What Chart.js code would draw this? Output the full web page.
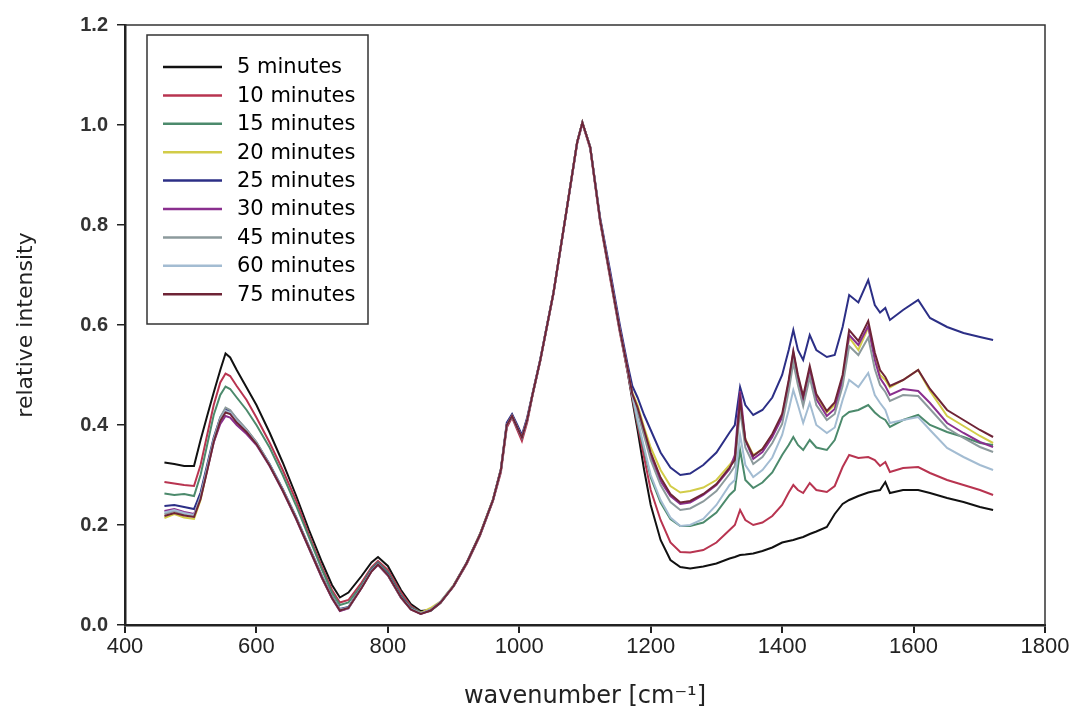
<!DOCTYPE html>
<html lang="en">
<head>
<meta charset="UTF-8">
<title>Spectra over time</title>
<script src="https://cdn.jsdelivr.net/npm/chart.js"></script>
<style>
    body {
        margin: 0;
        background: #ffffff;
    }
    #wrap {
        width: 1078px;
        height: 722px;
    }
</style>
</head>
<body>
<div id="wrap"><canvas id="spectra" width="1078" height="722"></canvas></div>
<script>
// wavenumbers (cm-1) shared by all spectra
const wavenumbers = [
    460, 475, 490, 505, 515, 525, 535, 545, 553, 560,
    570, 585, 600, 620, 640, 660, 680, 700, 715, 727,
    740, 760, 775, 785, 800, 820, 835, 850, 865, 880,
    900, 920, 940, 960, 972, 981, 989, 997, 1004, 1012,
    1020, 1032, 1052, 1072, 1088, 1096, 1108, 1123, 1138, 1153,
    1165, 1172, 1180, 1190, 1200, 1215, 1230, 1245, 1260, 1280,
    1300, 1320, 1328, 1336, 1344, 1356, 1370, 1385, 1400, 1410,
    1417, 1424, 1432, 1442, 1452, 1468, 1480, 1492, 1502, 1516,
    1531, 1541, 1549, 1557, 1564, 1584, 1607, 1625, 1651, 1676,
    1701, 1721
];

const labels = ['5 minutes', '10 minutes', '15 minutes', '20 minutes', '25 minutes',
                '30 minutes', '45 minutes', '60 minutes', '75 minutes'];

const s5 = [
    0.325, 0.322, 0.318, 0.318, 0.37, 0.418, 0.465, 0.51, 0.543, 0.535,
    0.51, 0.475, 0.44, 0.385, 0.325, 0.26, 0.19, 0.125, 0.08, 0.055,
    0.065, 0.098, 0.125, 0.136, 0.118, 0.07, 0.042, 0.028, 0.03, 0.045,
    0.078, 0.124, 0.18, 0.25, 0.31, 0.40, 0.418, 0.395, 0.375, 0.41,
    0.46, 0.53, 0.664, 0.83, 0.965, 1.005, 0.955, 0.81, 0.70, 0.59,
    0.505, 0.45, 0.39, 0.31, 0.24, 0.17, 0.13, 0.116, 0.113, 0.117,
    0.123, 0.133, 0.136, 0.14, 0.141, 0.143, 0.148, 0.155, 0.165, 0.168,
    0.17, 0.173, 0.176, 0.182, 0.187, 0.196, 0.222, 0.242, 0.25, 0.258,
    0.265, 0.268, 0.27, 0.286, 0.264, 0.27, 0.27, 0.264, 0.254, 0.246,
    0.236, 0.23
];
const s10 = [
    0.286, 0.283, 0.28, 0.278, 0.32, 0.38, 0.44, 0.485, 0.503, 0.498,
    0.478, 0.45, 0.415, 0.365, 0.31, 0.25, 0.18, 0.115, 0.07, 0.045,
    0.05, 0.085, 0.115, 0.128, 0.11, 0.065, 0.038, 0.025, 0.029, 0.044,
    0.077, 0.122, 0.178, 0.248, 0.305, 0.395, 0.415, 0.39, 0.368, 0.405,
    0.458, 0.528, 0.662, 0.828, 0.962, 1.003, 0.952, 0.806, 0.695, 0.585,
    0.505, 0.455, 0.40, 0.335, 0.27, 0.21, 0.165, 0.146, 0.145, 0.15,
    0.165, 0.19, 0.20, 0.23, 0.21, 0.2, 0.205, 0.218, 0.24, 0.265,
    0.28, 0.27, 0.264, 0.284, 0.27, 0.266, 0.278, 0.316, 0.34, 0.334,
    0.336, 0.33, 0.318, 0.326, 0.306, 0.314, 0.316, 0.304, 0.29, 0.28,
    0.27, 0.26
];
const s15 = [
    0.263, 0.26, 0.262, 0.258, 0.30, 0.36, 0.42, 0.46, 0.477, 0.472,
    0.455, 0.43, 0.40, 0.355, 0.30, 0.24, 0.175, 0.11, 0.065, 0.04,
    0.045, 0.08, 0.112, 0.125, 0.106, 0.06, 0.035, 0.025, 0.028, 0.044,
    0.078, 0.124, 0.18, 0.25, 0.31, 0.40, 0.418, 0.395, 0.375, 0.41,
    0.46, 0.53, 0.664, 0.83, 0.965, 1.005, 0.955, 0.81, 0.70, 0.59,
    0.51, 0.46, 0.405, 0.35, 0.295, 0.245, 0.212, 0.198, 0.198, 0.205,
    0.225, 0.26, 0.27, 0.35, 0.29, 0.274, 0.285, 0.305, 0.34, 0.36,
    0.376, 0.36, 0.35, 0.37, 0.355, 0.35, 0.37, 0.416, 0.426, 0.43,
    0.44, 0.425, 0.416, 0.41, 0.396, 0.41, 0.42, 0.40, 0.386, 0.376,
    0.364, 0.36
];
const s20 = [
    0.214, 0.222, 0.215, 0.212, 0.25, 0.31, 0.37, 0.41, 0.43, 0.427,
    0.41, 0.39, 0.365, 0.32, 0.27, 0.215, 0.155, 0.095, 0.055, 0.03,
    0.035, 0.075, 0.108, 0.122, 0.10, 0.055, 0.032, 0.024, 0.034, 0.047,
    0.08, 0.125, 0.182, 0.252, 0.312, 0.402, 0.42, 0.397, 0.377, 0.412,
    0.461, 0.531, 0.665, 0.831, 0.966, 1.006, 0.956, 0.812, 0.702, 0.592,
    0.512, 0.465, 0.44, 0.395, 0.355, 0.31, 0.278, 0.265, 0.268, 0.275,
    0.29, 0.32, 0.335, 0.44, 0.372, 0.34, 0.352, 0.38, 0.418, 0.48,
    0.53, 0.49, 0.452, 0.505, 0.458, 0.425, 0.44, 0.492, 0.575, 0.55,
    0.595, 0.535, 0.5, 0.49, 0.475, 0.49, 0.51, 0.468, 0.418, 0.398,
    0.378, 0.364
];
const s25 = [
    0.238, 0.24, 0.236, 0.232, 0.265, 0.32, 0.375, 0.415, 0.432, 0.428,
    0.412, 0.39, 0.365, 0.322, 0.272, 0.217, 0.157, 0.097, 0.057, 0.032,
    0.036, 0.076, 0.11, 0.123, 0.102, 0.057, 0.033, 0.023, 0.03, 0.046,
    0.079, 0.125, 0.181, 0.251, 0.312, 0.405, 0.422, 0.4, 0.38, 0.415,
    0.462, 0.532, 0.665, 0.83, 0.965, 1.005, 0.956, 0.815, 0.71, 0.6,
    0.52, 0.478, 0.455, 0.42, 0.39, 0.345, 0.315, 0.30, 0.303, 0.32,
    0.345, 0.385, 0.40, 0.476, 0.44, 0.42, 0.43, 0.455, 0.50, 0.55,
    0.59, 0.55, 0.53, 0.58, 0.55, 0.536, 0.54, 0.596, 0.66, 0.645,
    0.69, 0.64, 0.625, 0.634, 0.61, 0.63, 0.65, 0.614, 0.596, 0.584,
    0.576, 0.57
];
const s30 = [
    0.228, 0.232, 0.226, 0.222, 0.255, 0.31, 0.365, 0.402, 0.418, 0.415,
    0.4, 0.382, 0.36, 0.318, 0.268, 0.213, 0.153, 0.093, 0.053, 0.028,
    0.033, 0.074, 0.107, 0.12, 0.099, 0.054, 0.031, 0.022, 0.029, 0.045,
    0.078, 0.124, 0.18, 0.25, 0.31, 0.40, 0.418, 0.395, 0.375, 0.41,
    0.46, 0.53, 0.664, 0.83, 0.965, 1.005, 0.955, 0.81, 0.702, 0.592,
    0.512, 0.462, 0.43, 0.385, 0.338, 0.288, 0.258, 0.242, 0.245, 0.26,
    0.28, 0.312, 0.34, 0.468, 0.37, 0.332, 0.346, 0.376, 0.415, 0.485,
    0.545, 0.495, 0.45, 0.512, 0.452, 0.418, 0.432, 0.49, 0.58, 0.56,
    0.598, 0.53, 0.494, 0.478, 0.46, 0.472, 0.468, 0.444, 0.404, 0.384,
    0.366, 0.356
];
const s45 = [
    0.222, 0.228, 0.221, 0.218, 0.258, 0.315, 0.372, 0.415, 0.435, 0.43,
    0.413, 0.391, 0.366, 0.321, 0.271, 0.216, 0.156, 0.096, 0.056, 0.031,
    0.035, 0.075, 0.108, 0.122, 0.1, 0.055, 0.032, 0.023, 0.03, 0.046,
    0.078, 0.124, 0.18, 0.25, 0.31, 0.40, 0.418, 0.395, 0.375, 0.41,
    0.46, 0.53, 0.664, 0.83, 0.965, 1.005, 0.955, 0.81, 0.70, 0.59,
    0.51, 0.46, 0.425, 0.378, 0.33, 0.28, 0.246, 0.23, 0.233, 0.247,
    0.268, 0.302, 0.318, 0.43, 0.355, 0.322, 0.336, 0.364, 0.402, 0.468,
    0.525, 0.48, 0.438, 0.495, 0.44, 0.41, 0.422, 0.478, 0.558, 0.54,
    0.575, 0.512, 0.48, 0.466, 0.448, 0.46, 0.458, 0.432, 0.394, 0.374,
    0.356, 0.346
];
const s60 = [
    0.225, 0.23, 0.224, 0.22, 0.255, 0.312, 0.368, 0.41, 0.428, 0.425,
    0.408, 0.388, 0.363, 0.32, 0.27, 0.215, 0.155, 0.095, 0.055, 0.03,
    0.034, 0.075, 0.108, 0.121, 0.1, 0.055, 0.032, 0.023, 0.03, 0.046,
    0.078, 0.124, 0.18, 0.25, 0.31, 0.40, 0.418, 0.395, 0.375, 0.41,
    0.46, 0.53, 0.664, 0.83, 0.965, 1.005, 0.955, 0.81, 0.70, 0.59,
    0.51, 0.46, 0.41, 0.355, 0.30, 0.25, 0.215, 0.198, 0.2, 0.212,
    0.24, 0.28, 0.29, 0.38, 0.32, 0.296, 0.31, 0.335, 0.38, 0.43,
    0.47, 0.44, 0.404, 0.444, 0.40, 0.384, 0.395, 0.45, 0.49, 0.476,
    0.504, 0.46, 0.444, 0.43, 0.404, 0.41, 0.416, 0.39, 0.354, 0.336,
    0.32, 0.31
];
const s75 = [
    0.218, 0.224, 0.219, 0.216, 0.252, 0.308, 0.366, 0.408, 0.425, 0.422,
    0.405, 0.386, 0.362, 0.319, 0.269, 0.214, 0.154, 0.094, 0.054, 0.029,
    0.034, 0.074, 0.107, 0.121, 0.1, 0.055, 0.031, 0.022, 0.029, 0.045,
    0.078, 0.124, 0.18, 0.25, 0.31, 0.40, 0.418, 0.395, 0.375, 0.41,
    0.46, 0.53, 0.664, 0.83, 0.965, 1.005, 0.955, 0.81, 0.70, 0.59,
    0.512, 0.462, 0.435, 0.39, 0.345, 0.295, 0.262, 0.245, 0.248, 0.262,
    0.282, 0.315, 0.33, 0.45, 0.37, 0.338, 0.352, 0.382, 0.422, 0.49,
    0.548, 0.50, 0.458, 0.518, 0.462, 0.428, 0.445, 0.50, 0.59, 0.568,
    0.608, 0.545, 0.51, 0.496, 0.478, 0.49, 0.51, 0.472, 0.43, 0.41,
    0.39, 0.376
];

const series = [s5, s10, s15, s20, s25, s30, s45, s60, s75];
const colors = ['#111111', '#b83450', '#4c8a6c', '#d2cc48', '#2c2f86',
                '#8a2f8e', '#8c9a9c', '#a3bcd2', '#6e2436'];

const xTicks = [400, 600, 800, 1000, 1200, 1400, 1600, 1800];
const yTicks = [0, 0.2, 0.4, 0.6, 0.8, 1.0, 1.2];

const WIDE = '"DejaVu Sans", Arial, sans-serif';
const PLAIN = '"Liberation Sans", Arial, sans-serif';
const NARROW = '"Liberation Sans Narrow", "Arial Narrow", "Liberation Sans", sans-serif';

// legend box drawn inside the plot, top left
const legendBox = {
    id: 'legendBox',
    afterDatasetsDraw(chart) {
        const ctx = chart.ctx;
        const a = chart.chartArea;
        const bx = a.left + 22, by = a.top + 10, bw = 221, bh = 289;
        ctx.save();
        ctx.fillStyle = '#ffffff';
        ctx.fillRect(bx, by, bw, bh);
        ctx.strokeStyle = '#333333';
        ctx.lineWidth = 1.5;
        ctx.strokeRect(bx, by, bw, bh);
        ctx.font = '21px ' + WIDE;
        ctx.textBaseline = 'middle';
        chart.data.datasets.forEach((ds, i) => {
            const y = by + 32 + i * 28.4;
            ctx.strokeStyle = ds.borderColor;
            ctx.lineWidth = 2.5;
            ctx.beginPath();
            ctx.moveTo(bx + 16, y);
            ctx.lineTo(bx + 75, y);
            ctx.stroke();
            ctx.fillStyle = '#000000';
            ctx.fillText(ds.label, bx + 90, y + 1);
        });
        ctx.restore();
    }
};

// right and top frame lines
const frame = {
    id: 'frame',
    afterDraw(chart) {
        const ctx = chart.ctx;
        const a = chart.chartArea;
        ctx.save();
        ctx.strokeStyle = '#333333';
        ctx.lineWidth = 1.5;
        ctx.beginPath();
        ctx.moveTo(a.left, a.top);
        ctx.lineTo(a.right, a.top);
        ctx.lineTo(a.right, a.bottom);
        ctx.stroke();
        ctx.restore();
    }
};

const datasets = series.map((vals, i) => ({
    label: labels[i],
    data: wavenumbers.map((w, j) => ({ x: w, y: vals[j] })),
    borderColor: colors[i],
    backgroundColor: colors[i],
    borderWidth: 2,
    pointRadius: 0,
    tension: 0,
    order: series.length - i
}));

new Chart(document.getElementById('spectra'), {
    type: 'line',
    data: { datasets: datasets },
    options: {
        responsive: false,
        animation: false,
        layout: { padding: { left: 10, right: 33, top: 25, bottom: 8 } },
        plugins: {
            legend: { display: false },
            tooltip: { enabled: false }
        },
        scales: {
            x: {
                type: 'linear',
                min: 400,
                max: 1800,
                afterBuildTicks: s => { s.ticks = xTicks.map(v => ({ value: v })); },
                afterFit: s => { s.height = 89; },
                ticks: {
                    color: '#222222',
                    font: { family: NARROW, size: 22 },
                    padding: 1,
                    maxRotation: 0,
                    callback: v => String(v)
                },
                grid: { display: true, drawOnChartArea: false, drawTicks: true, tickLength: 8, color: '#222222', lineWidth: 2 },
                border: { display: true, color: '#222222', width: 2.5 },
                title: {
                    display: true,
                    text: 'wavenumber [cm\u207B\u00B9]',
                    color: '#222222',
                    font: { family: WIDE, size: 24 },
                    padding: { top: 10, bottom: 3 }
                }
            },
            y: {
                min: 0,
                max: 1.2,
                afterBuildTicks: s => { s.ticks = yTicks.map(v => ({ value: v })); },
                afterFit: s => { s.width = 115; },
                ticks: {
                    color: '#333333',
                    font: { family: PLAIN, size: 20, weight: 'bold' },
                    padding: 9,
                    callback: v => v.toFixed(1)
                },
                grid: { display: true, drawOnChartArea: false, drawTicks: true, tickLength: 8, color: '#222222', lineWidth: 1.5 },
                border: { display: true, color: '#222222', width: 2.5 },
                title: {
                    display: true,
                    text: 'relative intensity',
                    color: '#222222',
                    font: { family: WIDE, size: 22 },
                    padding: { top: 3, bottom: 10 }
                }
            }
        }
    },
    plugins: [legendBox, frame]
});
</script>
</body>
</html>
